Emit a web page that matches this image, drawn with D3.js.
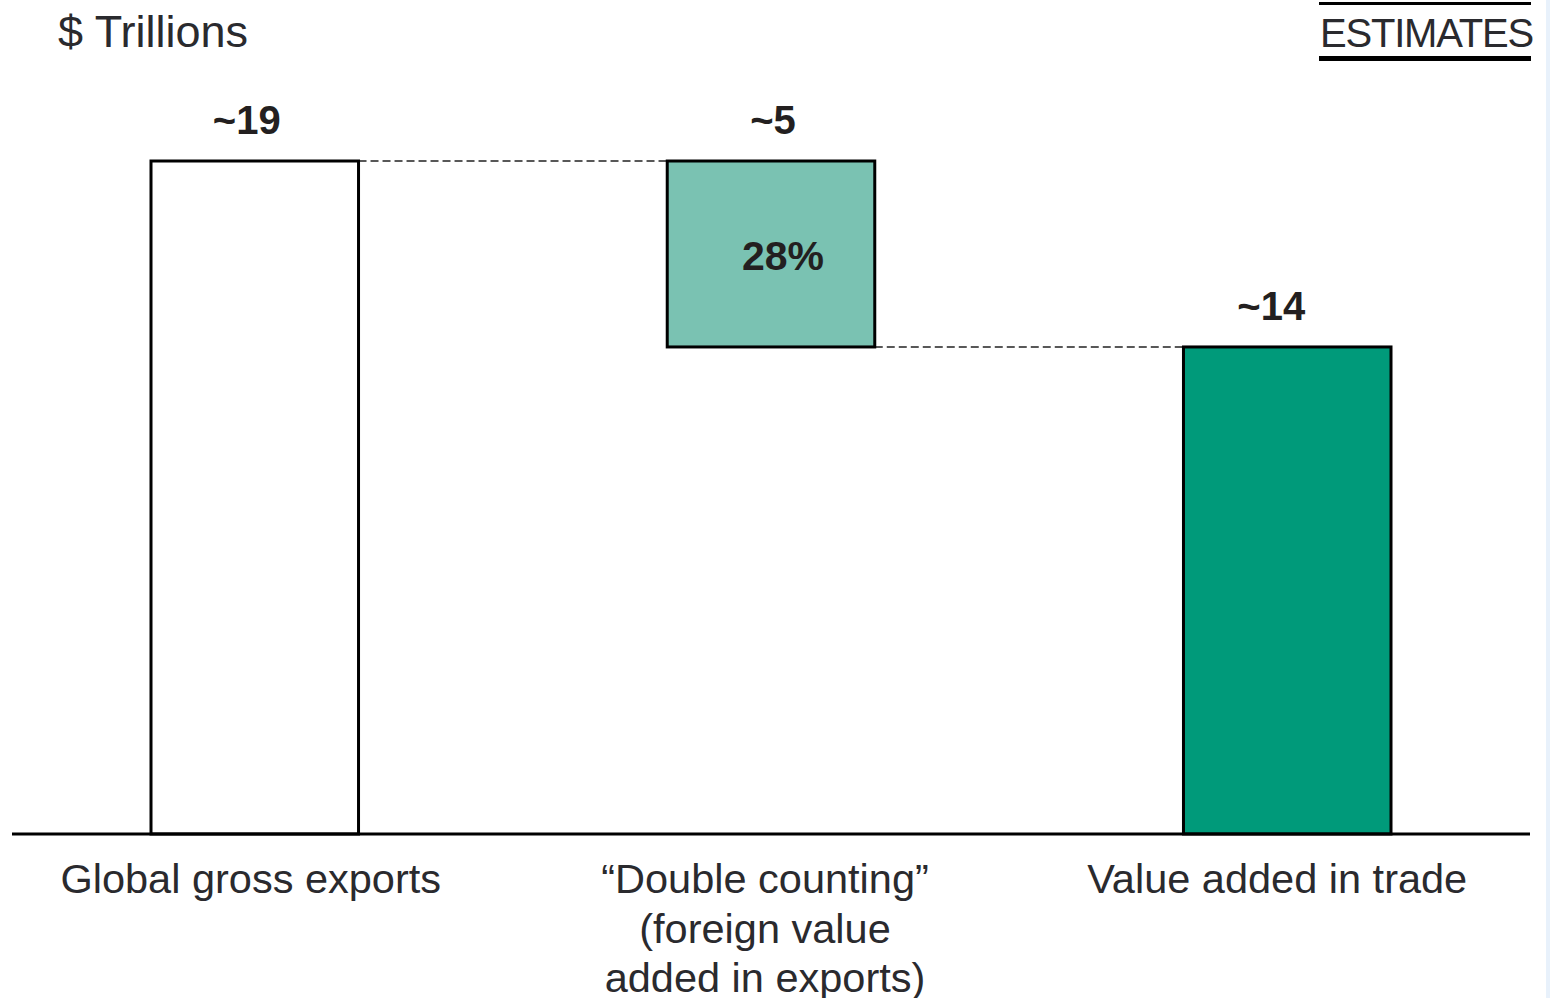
<!DOCTYPE html>
<html>
<head>
<meta charset="utf-8">
<script src="https://cdn.jsdelivr.net/npm/d3@7"></script>
<style>
  html, body { margin: 0; padding: 0; background: #fff; }
  svg { display: block; }
  text { font-family: "Liberation Sans", Arial, Helvetica, sans-serif; }
</style>
</head>
<body>
<svg id="chart" width="1550" height="998"></svg>
<script>
// ---- data ----
const categories = ["Global gross exports", "Double counting", "Value added in trade"];
const categoryLabelLines = [
  ["Global gross exports"],
  ["\u201CDouble counting\u201D", "(foreign value", "added in exports)"],
  ["Value added in trade"]
];
const barBase = [0, 13.75, 0];        // bottom of each bar ($ trillions)
const barTop = [19, 19, 13.75];       // top of each bar ($ trillions)
const valueLabels = ["~19", "~5", "~14"];
const shareLabel = "28%";
const unitLabel = "$ Trillions";
const stampLabel = "ESTIMATES";
const barColors = ["#ffffff", "#7ac2b2", "#009a7a"];

// ---- layout ----
const svg = d3.select("#chart");
const baselineY = 834, topY = 161;

const x = d3.scaleBand()
  .domain(categories)
  .range([151, 1391])
  .paddingInner(0.598)
  .paddingOuter(0);

const y = d3.scaleLinear()
  .domain([0, 19])
  .range([baselineY, topY]);

// right edge faint strip (scan artifact)
svg.append("rect").attr("x", 1546).attr("y", 0).attr("width", 4).attr("height", 998)
  .attr("fill", "#e8f1fb");

// title
svg.append("text")
  .attr("x", 58).attr("y", 47)
  .attr("font-size", 45)
  .attr("fill", "#2a2a2e")
  .text(unitLabel);

// ESTIMATES stamp
const stamp = svg.append("g");
stamp.append("line").attr("x1", 1319).attr("x2", 1531).attr("y1", 3.5).attr("y2", 3.5)
  .attr("stroke", "#000").attr("stroke-width", 3);
stamp.append("text")
  .attr("x", 1320).attr("y", 47)
  .attr("font-size", 40)
  .attr("letter-spacing", -1.2)
  .attr("fill", "#2a2a2e")
  .text(stampLabel);
stamp.append("line").attr("x1", 1319).attr("x2", 1531).attr("y1", 58.5).attr("y2", 58.5)
  .attr("stroke", "#000").attr("stroke-width", 5);

// dashed connectors
const idx = d3.range(categories.length);
const connectors = [
  { from: 0, to: 1, v: barTop[0] },
  { from: 1, to: 2, v: barBase[1] }
];
svg.selectAll(".conn").data(connectors).join("line")
  .attr("class", "conn")
  .attr("x1", d => x(categories[d.from]) + x.bandwidth())
  .attr("x2", d => x(categories[d.to]))
  .attr("y1", d => y(d.v))
  .attr("y2", d => y(d.v))
  .attr("stroke", "#222")
  .attr("stroke-width", 1.6)
  .attr("stroke-dasharray", "8,4");

// bars
svg.selectAll(".bar").data(idx).join("rect")
  .attr("class", "bar")
  .attr("x", i => x(categories[i]))
  .attr("width", x.bandwidth())
  .attr("y", i => y(barTop[i]))
  .attr("height", i => y(barBase[i]) - y(barTop[i]))
  .attr("fill", i => barColors[i])
  .attr("stroke", "#000")
  .attr("stroke-width", 3);

// baseline
svg.append("line")
  .attr("x1", 12).attr("x2", 1530)
  .attr("y1", baselineY).attr("y2", baselineY)
  .attr("stroke", "#000").attr("stroke-width", 3);

// value labels
const labelOffsets = [-8, 2, -16];
svg.selectAll(".vlabel").data(idx).join("text")
  .attr("class", "vlabel")
  .attr("x", i => x(categories[i]) + x.bandwidth() / 2 + labelOffsets[i])
  .attr("y", i => y(barTop[i]) - 27)
  .attr("text-anchor", "middle")
  .attr("font-size", 40)
  .attr("font-weight", "bold")
  .attr("fill", "#231f20")
  .text(i => valueLabels[i]);

// share label inside double counting bar
svg.append("text")
  .attr("x", x(categories[1]) + x.bandwidth() / 2 + 12)
  .attr("y", (y(barTop[1]) + y(barBase[1])) / 2 + 16)
  .attr("text-anchor", "middle")
  .attr("font-size", 41)
  .attr("font-weight", "bold")
  .attr("fill", "#231f20")
  .text(shareLabel);

// category labels
const catOffsets = [-4, -6, -10];
const cat = svg.selectAll(".cat").data(idx).join("text")
  .attr("class", "cat")
  .attr("text-anchor", "middle")
  .attr("font-size", 41.5)
  .attr("fill", "#2a2a2e");
cat.each(function(i) {
  const t = d3.select(this);
  categoryLabelLines[i].forEach((line, k) => {
    t.append("tspan")
      .attr("x", x(categories[i]) + x.bandwidth() / 2 + catOffsets[i])
      .attr("y", 893 + k * 49.5)
      .text(line);
  });
});
</script>
</body>
</html>
